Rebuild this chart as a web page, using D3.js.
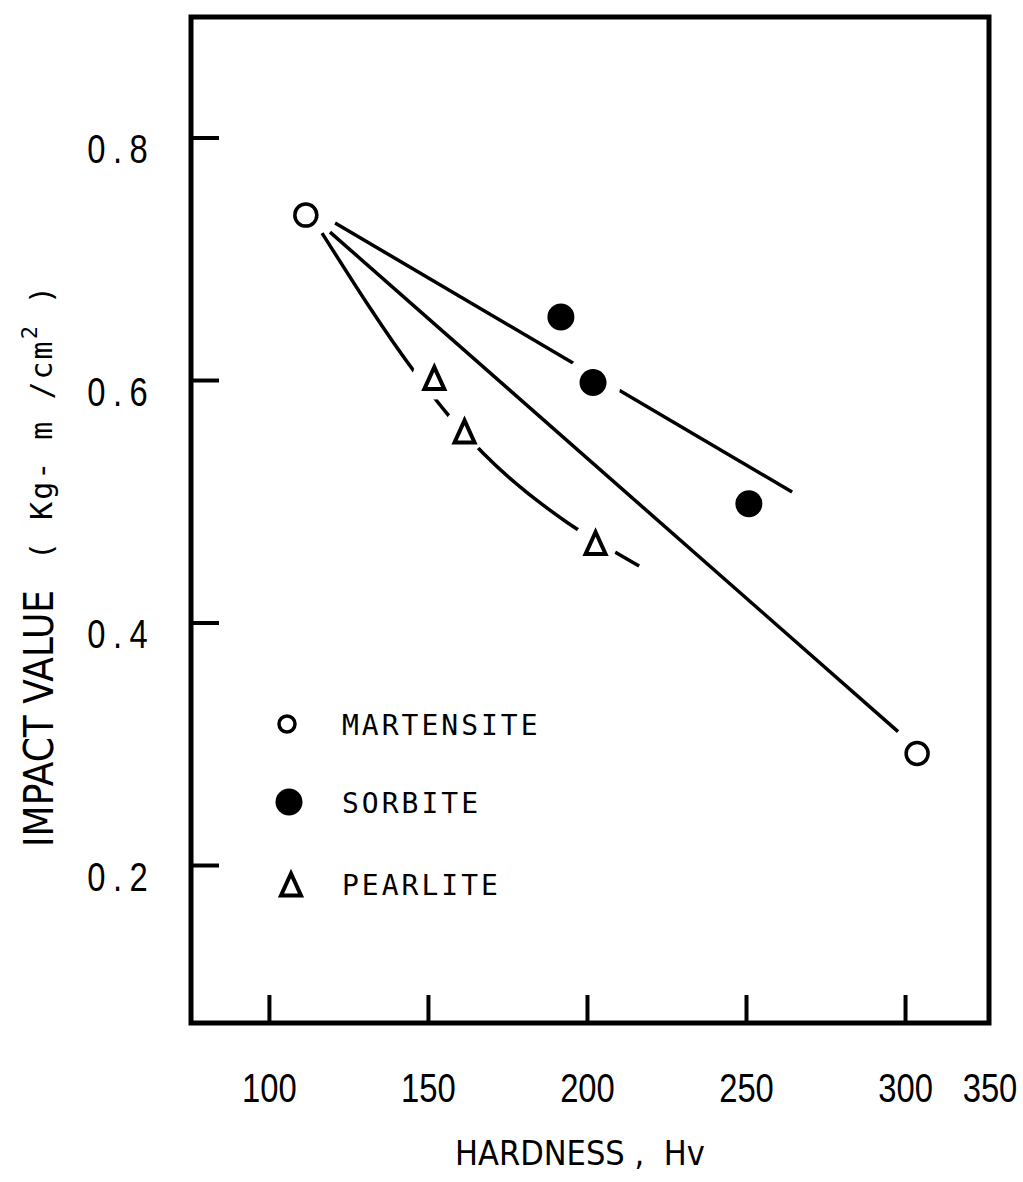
<!DOCTYPE html>
<html>
<head>
<meta charset="utf-8">
<script src="https://cdn.jsdelivr.net/npm/d3@7"></script>
<style>
  body { margin: 0; background: #fff; }
  svg { display: block; }
</style>
</head>
<body>
<script>
// data
var martensiteHv = [111.6, 303.8];
var martensiteImpact = [0.736, 0.292];
var sorbiteHv = [191.8, 201.9, 250.9];
var sorbiteImpact = [0.652, 0.598, 0.498];
var pearliteHv = [152.0, 161.5, 202.7];
var pearliteImpact = [0.602, 0.558, 0.466];

// hand drawn fit lines
var martensiteFitHv = [119.2, 297.8];
var martensiteFitImpact = [0.722, 0.310];
var sorbiteFitHv = [120.8, 264.5];
var sorbiteFitImpact = [0.7295, 0.5076];
var pearliteFitHv = [116.7, 146.5, 156.9, 167.3, 194.0, 208.8, 216.4];
var pearliteFitImpact = [0.7212, 0.6041, 0.5695, 0.5398, 0.4821, 0.4582, 0.4466];

var xTicks = [100, 150, 200, 250, 300];
var xExtraLabel = "350";
var yTicks = [0.2, 0.4, 0.6, 0.8];
var legendNames = ["MARTENSITE", "SORBITE", "PEARLITE"];

(function () {
    var width = 1023, height = 1182;
    var sans = "'Liberation Sans', Arimo, sans-serif";   // squeezed with scaleX below
    var narrow = "'DejaVu Sans Condensed', 'Liberation Sans', sans-serif";
    var mono = "'DejaVu Sans Mono', 'Liberation Mono', monospace";
    var squeeze = 0.82;

    var svg = d3.select("body").append("svg")
        .attr("width", width)
        .attr("height", height);

    var x = d3.scaleLinear().domain([75.5, 326.4]).range([191, 989]);
    var y = d3.scaleLinear().domain([0.0697, 0.8994]).range([1023, 17]);

    function zip(a, b) {
        return a.map(function (d, i) { return [d, b[i]]; });
    }

    // frame
    svg.append("rect")
        .attr("x", x.range()[0])
        .attr("y", y.range()[1])
        .attr("width", x.range()[1] - x.range()[0])
        .attr("height", y.range()[0] - y.range()[1])
        .attr("fill", "none")
        .attr("stroke", "#000")
        .attr("stroke-width", 5);

    // x axis, ticks pointing inward
    var xAxis = svg.append("g")
        .attr("transform", "translate(0," + y.range()[0] + ")")
        .call(d3.axisBottom(x).tickValues(xTicks).tickSize(-28).tickFormat(d3.format("d")));
    xAxis.select(".domain").remove();
    xAxis.selectAll(".tick line").attr("stroke-width", 4);
    xAxis.selectAll(".tick text")
        .attr("y", 79).attr("dy", null)
        .attr("transform", "scale(" + squeeze + ",1)")
        .style("font-family", sans).style("font-size", "40px").attr("fill", "#000");
    svg.append("text")
        .attr("transform", "translate(" + (x.range()[1] + 1) + "," + (y.range()[0] + 79) + ") scale(" + squeeze + ",1)")
        .attr("text-anchor", "middle")
        .style("font-family", sans).style("font-size", "40px")
        .text(xExtraLabel);

    // y axis
    var yAxis = svg.append("g")
        .attr("transform", "translate(" + x.range()[0] + ",0)")
        .call(d3.axisLeft(y).tickValues(yTicks).tickSize(-28).tickFormat(d3.format(".1f")));
    yAxis.select(".domain").remove();
    yAxis.selectAll(".tick line").attr("stroke-width", 4);
    yAxis.selectAll(".tick text")
        .attr("x", -36 / squeeze).attr("y", 25).attr("dy", null)
        .attr("transform", "scale(" + squeeze + ",1)")
        .style("font-family", sans).style("font-size", "40px")
        .style("letter-spacing", "9px").attr("fill", "#000");

    // axis titles
    svg.append("text")
        .attr("x", 455)
        .attr("y", 1165)
        .style("font-family", narrow).style("font-size", "34px")
        .attr("xml:space", "preserve")
        .style("white-space", "pre")
        .text("HARDNESS ,  Hv");

    var yTitle = svg.append("g").attr("transform", "rotate(-90)");
    yTitle.append("text")
        .attr("x", -847)
        .attr("y", 53)
        .style("font-family", narrow).style("font-size", "40px")
        .text("IMPACT VALUE");
    var unit = yTitle.append("text")
        .attr("x", -560)
        .attr("y", 52)
        .style("font-family", mono).style("font-size", "30px")
        .style("letter-spacing", "2px")
        .style("white-space", "pre");
    unit.append("tspan").text("( Kg- m /cm");
    unit.append("tspan").attr("dy", -15).style("font-size", "22px").text("2");
    unit.append("tspan").attr("dy", 15).text(" )");

    // fit lines
    var line = d3.line()
        .x(function (d) { return x(d[0]); })
        .y(function (d) { return y(d[1]); });
    var fits = [
        { pts: zip(martensiteFitHv, martensiteFitImpact), curve: d3.curveLinear },
        { pts: zip(sorbiteFitHv, sorbiteFitImpact), curve: d3.curveLinear },
        { pts: zip(pearliteFitHv, pearliteFitImpact), curve: d3.curveMonotoneX }
    ];
    svg.selectAll(".fit")
        .data(fits)
        .enter().append("path")
        .attr("class", "fit")
        .attr("d", function (d) { return line.curve(d.curve)(d.pts); })
        .attr("fill", "none")
        .attr("stroke", "#000")
        .attr("stroke-width", 3.5);

    // white gaps where the lines break around points
    var gaps = zip(sorbiteHv, sorbiteImpact).map(function (d) { return { p: d, r: 28 }; })
        .concat(zip(pearliteHv, pearliteImpact).map(function (d) { return { p: d, r: 22 }; }));
    svg.selectAll(".gap")
        .data(gaps)
        .enter().append("circle")
        .attr("class", "gap")
        .attr("cx", function (d) { return x(d.p[0]); })
        .attr("cy", function (d) { return y(d.p[1]); })
        .attr("r", function (d) { return d.r; })
        .attr("fill", "#fff");

    var triPath = "M0,-10.5L10,11.5L-10,11.5Z";

    // markers
    svg.selectAll(".mart")
        .data(zip(martensiteHv, martensiteImpact))
        .enter().append("circle")
        .attr("class", "mart")
        .attr("cx", function (d) { return x(d[0]); })
        .attr("cy", function (d) { return y(d[1]); })
        .attr("r", 11)
        .attr("fill", "#fff")
        .attr("stroke", "#000")
        .attr("stroke-width", 3.5);

    svg.selectAll(".sorb")
        .data(zip(sorbiteHv, sorbiteImpact))
        .enter().append("circle")
        .attr("class", "sorb")
        .attr("cx", function (d) { return x(d[0]); })
        .attr("cy", function (d) { return y(d[1]); })
        .attr("r", 13.5)
        .attr("fill", "#000");

    svg.selectAll(".pear")
        .data(zip(pearliteHv, pearliteImpact))
        .enter().append("path")
        .attr("class", "pear")
        .attr("transform", function (d) { return "translate(" + x(d[0]) + "," + y(d[1]) + ")"; })
        .attr("d", triPath)
        .attr("fill", "#fff")
        .attr("stroke", "#000")
        .attr("stroke-width", 4);

    // legend
    var legend = svg.append("g");
    var rowY = [724, 802, 884];
    legend.append("circle")
        .attr("cx", 287).attr("cy", rowY[0]).attr("r", 8)
        .attr("fill", "#fff").attr("stroke", "#000").attr("stroke-width", 3.5);
    legend.append("circle")
        .attr("cx", 289).attr("cy", rowY[1]).attr("r", 13.5)
        .attr("fill", "#000");
    legend.append("path")
        .attr("transform", "translate(291," + rowY[2] + ")")
        .attr("d", triPath)
        .attr("fill", "#fff").attr("stroke", "#000").attr("stroke-width", 4);
    legend.selectAll(".lt")
        .data(legendNames)
        .enter().append("text")
        .attr("class", "lt")
        .attr("x", 342)
        .attr("y", function (d, i) { return rowY[i] + 11; })
        .style("font-family", mono).style("font-size", "28px")
        .style("letter-spacing", "3px")
        .text(function (d) { return d; });
})();
</script>
</body>
</html>
